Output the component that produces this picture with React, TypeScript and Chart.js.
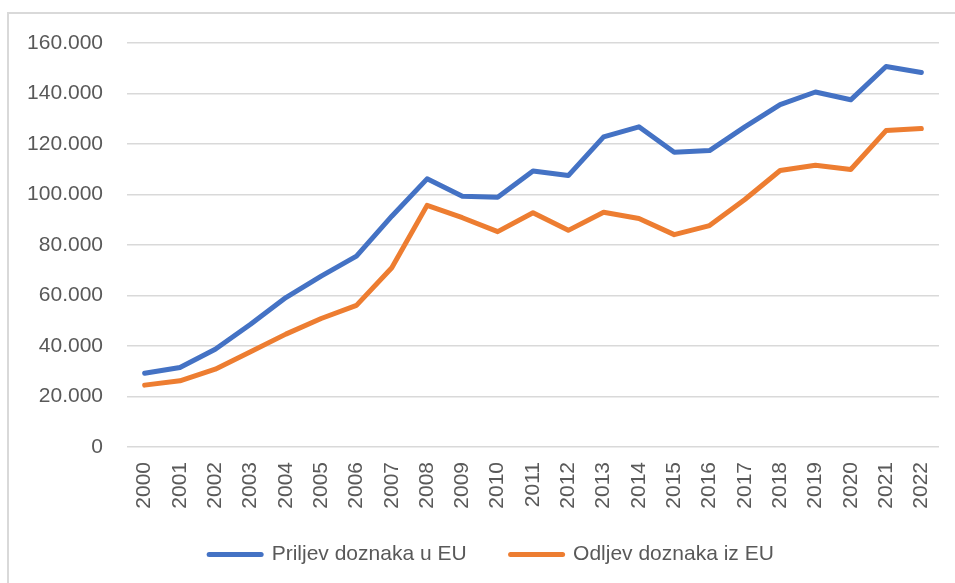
import React, { useEffect, useRef } from "react";
import { Chart, registerables } from "chart.js";

Chart.register(...registerables);

const years = [
  "2000", "2001", "2002", "2003", "2004", "2005", "2006", "2007", "2008", "2009", "2010", "2011",
  "2012", "2013", "2014", "2015", "2016", "2017", "2018", "2019", "2020", "2021", "2022",
];

const priljev = [
  29200, 31500, 38700, 48600, 59200, 67700, 75600, 91400, 106200, 99300, 98900, 109300,
  107500, 122800, 126800, 116700, 117400, 126800, 135600, 140600, 137500, 150700, 148300,
];

const odljev = [
  24500, 26200, 30800, 37700, 44700, 50900, 56100, 71000, 95700, 90800, 85300, 92800,
  85800, 93000, 90500, 84100, 87700, 98000, 109500, 111600, 109900, 125300, 126100,
];

const seriesLabels = ["Priljev doznaka u EU", "Odljev doznaka iz EU"];
const seriesColors = ["#4472C4", "#ED7D31"];

const yMin = 0;
const yMax = 160000;
const yStep = 20000;

const FONT = "'Liberation Sans', Arial, sans-serif";
const TEXT = "#595959";

function fmt(v: number): string {
  if (v === 0) return "0";
  const s = String(Math.round(v));
  return s.replace(/\B(?=(\d{3})+(?!\d))/g, ".");
}

export default function App() {
  const ref = useRef<HTMLCanvasElement | null>(null);

  useEffect(() => {
    if (!ref.current) return;
    const chart = new Chart(ref.current, {
      type: "line",
      data: {
        labels: years,
        datasets: [
          {
            label: seriesLabels[0],
            data: priljev,
            borderColor: seriesColors[0],
            backgroundColor: seriesColors[0],
            borderWidth: 5,
            pointRadius: 0,
            borderCapStyle: "round",
            borderJoinStyle: "round",
            tension: 0,
          },
          {
            label: seriesLabels[1],
            data: odljev,
            borderColor: seriesColors[1],
            backgroundColor: seriesColors[1],
            borderWidth: 5,
            pointRadius: 0,
            borderCapStyle: "round",
            borderJoinStyle: "round",
            tension: 0,
          },
        ],
      },
      options: {
        responsive: false,
        animation: false,
        devicePixelRatio: 1,
        layout: { padding: { left: 44, right: 16, top: 43, bottom: 8 } },
        plugins: {
          tooltip: { enabled: false },
          legend: {
            position: "bottom",
            labels: {
              usePointStyle: true,
              pointStyleWidth: 52,
              padding: 44,
              color: TEXT,
              font: { family: FONT, size: 21 },
              generateLabels: (c: any) =>
                c.data.datasets.map((ds: any, i: number) => ({
                  text: ds.label,
                  fillStyle: ds.borderColor,
                  strokeStyle: ds.borderColor,
                  lineWidth: 5,
                  lineCap: "round",
                  pointStyle: "line",
                  hidden: false,
                  datasetIndex: i,
                  fontColor: TEXT,
                })),
            },
          },
        },
        scales: {
          x: {
            offset: true,
            grid: { display: false, drawTicks: false, offset: true },
            border: { display: false },
            ticks: {
              autoSkip: false,
              maxRotation: 90,
              minRotation: 90,
              padding: 15,
              color: TEXT,
              font: { family: FONT, size: 21 },
            },
            afterFit: (scale: any) => {
              scale.height = 53;
              scale.paddingLeft = 0;
              scale.paddingRight = 0;
              scale._computeLabelArea = () => undefined;
            },
          },
          y: {
            min: yMin,
            max: yMax,
            grid: { color: "#d9d9d9", lineWidth: 1.5, drawTicks: false },
            border: { display: false },
            ticks: {
              stepSize: yStep,
              padding: 24,
              color: TEXT,
              font: { family: FONT, size: 21 },
              callback: (v: any) => fmt(Number(v)),
            },
            afterFit: (scale: any) => {
              scale.width = 83;
              scale._computeLabelArea = () => undefined;
            },
          },
        },
      },
    });
    return () => chart.destroy();
  }, []);

  return (
    <div style={{ position: "fixed", left: 0, top: 0, width: 955, height: 583, overflow: "hidden", background: "#fff" }}>
      <div
        style={{
          position: "absolute",
          left: 7,
          top: 12,
          width: 960,
          height: 600,
          borderLeft: "2px solid #d9d9d9",
          borderTop: "2px solid #d9d9d9",
          boxSizing: "border-box",
        }}
      />
      <canvas ref={ref} width={955} height={583} style={{ position: "absolute", left: 0, top: 0, display: "block" }} />
    </div>
  );
}
